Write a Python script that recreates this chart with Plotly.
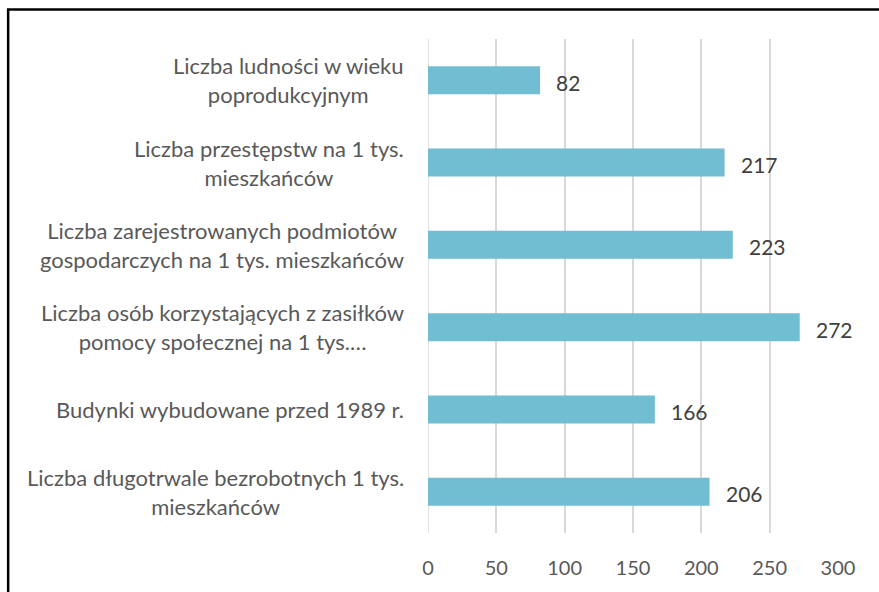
import plotly.graph_objects as go

categories = [
    "Liczba ludności w wieku<br>poprodukcyjnym",
    "Liczba przestępstw na 1 tys.<br>mieszkańców",
    "Liczba zarejestrowanych podmiotów<br>gospodarczych na 1 tys. mieszkańców",
    "Liczba osób korzystających z zasiłków<br>pomocy społecznej na 1 tys.…",
    "Budynki wybudowane przed 1989 r.",
    "Liczba długotrwale bezrobotnych 1 tys.<br>mieszkańców",
]
values = [82, 217, 223, 272, 166, 206]
x_ticks = [0, 50, 100, 150, 200, 250, 300]

FONT = "Lato"
TXT = "#595959"

fig = go.Figure()
fig.add_trace(go.Bar(
    y=list(range(len(categories))), x=values, orientation="h",
    marker=dict(color="#71BDD1", line=dict(width=0)),
    hoverinfo="skip",
))

annotations = []
for i, (c, v) in enumerate(zip(categories, values)):
    annotations.append(dict(
        x=0, xref="paper", y=i, yref="y", text=c, showarrow=False,
        xanchor="right", yanchor="middle", align="center", xshift=-22,
        font=dict(family=FONT, size=22, color=TXT),
    ))
    annotations.append(dict(
        x=v, xref="x", y=i, yref="y", text=str(v), showarrow=False,
        xanchor="left", yanchor="middle", xshift=14, yshift=-2,
        font=dict(family=FONT, size=21, color="#404040"),
    ))

fig.update_layout(
    width=879, height=592,
    margin=dict(l=428, r=41, t=39, b=59),
    paper_bgcolor="white", plot_bgcolor="white",
    showlegend=False,
    bargap=0.66,
    annotations=annotations,
    xaxis=dict(
        range=[0, 300], tickvals=x_ticks, ticktext=[str(t) for t in x_ticks],
        showgrid=True, gridcolor="#D9D9D9", gridwidth=1.5,
        zeroline=False, showline=False,
        ticks="outside", ticklen=17, tickcolor="rgba(0,0,0,0)",
        tickfont=dict(family=FONT, size=20, color=TXT),
    ),
    yaxis=dict(
        range=[len(categories) - 0.5, -0.5],
        showticklabels=False, showgrid=False, zeroline=False, showline=False,
    ),
    shapes=[
        dict(type="line", xref="x", yref="paper", x0=0, x1=0, y0=0, y1=1,
             line=dict(color="#D9D9D9", width=1.5), layer="below"),
        dict(type="rect", xref="paper", yref="paper",
             x0=-1.024, x1=1.3, y0=-0.3, y1=1.0597,
             line=dict(color="black", width=2.5)),
    ],
)

fig.write_html("out.html", config={"displayModeBar": False},
               post_script="document.body.style.margin='0';")
